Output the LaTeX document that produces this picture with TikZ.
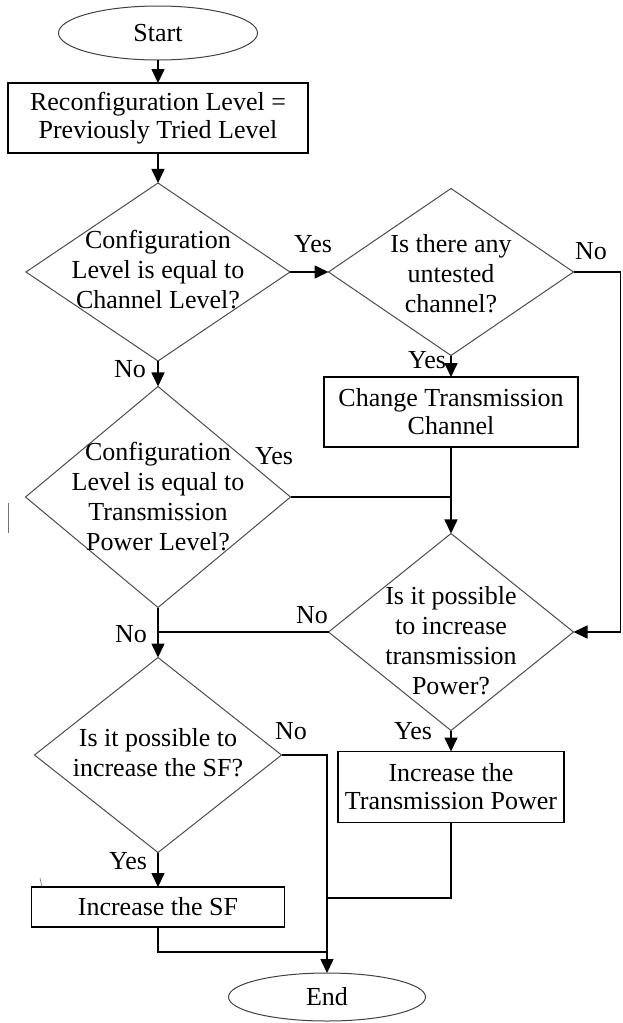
\documentclass[tikz,border=0pt]{standalone}
\usepackage{fontspec}
\setmainfont{Liberation Serif}
\usetikzlibrary{arrows.meta, shapes.geometric}
\tikzset{
  flowbox/.style={draw=black, line width=1.3pt, rectangle, inner sep=0pt,
                  outer sep=0pt, align=center},
  terminal/.style={draw=black!75, line width=1pt, ellipse, inner sep=0pt,
                   outer sep=0pt},
  decision/.style={draw=black!70, line width=1pt, diamond, inner sep=0pt,
                   outer sep=0pt},
  qtext/.style={align=center, font=\fontsize{26}{30}\selectfont},
  flow/.style={line width=1.6pt, -{Triangle[length=14pt, width=13pt]}},
  link/.style={line width=1.6pt},
  ans/.style={inner sep=0pt},
}
\begin{document}
\begin{tikzpicture}[x=1pt, y=-1pt, font=\fontsize{26}{28}\selectfont]
  \useasboundingbox (0,0) rectangle (622,1023);

  % left column
  \node[terminal, minimum width=199pt, minimum height=54pt] (start) at (158,33) {Start};
  \node[flowbox, minimum width=300pt, minimum height=70pt] (cfg) at (158,118)
    {Reconfiguration Level =\\Previously Tried Level};
  \node[decision, minimum width=264pt, minimum height=178pt,
        label={[qtext, yshift=2pt]center:Configuration\\Level is equal to\\Channel Level?}]
    (chlvl) at (158,272) {};
  \node[decision, minimum width=265pt, minimum height=221pt,
        label={[qtext]center:Configuration\\Level is equal to\\Transmission\\Power Level?}]
    (pwlvl) at (158,497) {};
  \node[decision, minimum width=247pt, minimum height=195pt,
        label={[qtext, yshift=2pt]center:Is it possible to\\increase the SF?}]
    (sfq) at (158,755) {};
  \node[flowbox, minimum width=253pt, minimum height=40pt] (incsf) at (158,907) {Increase the SF};

  % right column
  \node[decision, minimum width=245pt, minimum height=167pt,
        label={[qtext, yshift=-2pt]center:Is there any\\untested\\channel?}]
    (untst) at (451,272) {};
  \node[flowbox, minimum width=254pt, minimum height=70pt] (chgch) at (451,412)
    {Change Transmission\\Channel};
  \node[decision, minimum width=245pt, minimum height=197pt,
        label={[qtext, yshift=-9pt]center:Is it possible\\to increase\\transmission\\Power?}]
    (pwq) at (451,632) {};
  \node[flowbox, minimum width=226pt, minimum height=71pt] (incpw) at (451,787)
    {Increase the\\Transmission Power};

  \node[terminal, minimum width=197pt, minimum height=48pt] (end) at (327,997) {End};
  \coordinate (mpw) at (327,898);
  \coordinate (msf) at (327,952);

  % connectors
  \draw[flow] (start) -- (cfg);
  \draw[flow] (cfg) -- (chlvl);
  \draw[flow] (chlvl.east) -- (untst.west);
  \draw[flow] (chlvl) -- (pwlvl);
  \draw[flow] (untst) -- (chgch);
  \draw[flow] (chgch) -- (pwq);
  \draw[link] (pwlvl.east) -- (pwlvl.east -| pwq.north);
  \draw[flow] (untst.east) -- ++(47,0) |- (pwq.east);
  \draw[link] (pwq.west) -- (pwq.west -| pwlvl.south);
  \draw[flow] (pwlvl) -- (sfq);
  \draw[flow] (pwq) -- (incpw);
  \draw[flow] (sfq) -- (incsf);
  \draw[flow] (sfq.east) -| (end);
  \draw[link] (incpw) |- (mpw);
  \draw[link] (incsf) |- (msf);

  % answers
  \node[ans] (yes1) at (313,244) {Yes};
  \node[ans] (no1)  at (591,251) {No};
  \node[ans] (no2)  at (130,369) {No};
  \node[ans] (yes2) at (427,360) {Yes};
  \node[ans] (yes3) at (274,456) {Yes};
  \node[ans] (no3)  at (312,615) {No};
  \node[ans] (no4)  at (131,634) {No};
  \node[ans] (yes4) at (413,731) {Yes};
  \node[ans] (no5)  at (291,731) {No};
  \node[ans] (yes5) at (128,861) {Yes};

  % stray marks
  \draw[black!55, line width=0.8pt] (8,503) -- (8,533);
  \draw[black!55, line width=0.6pt] (40,878) -- (42,887);
\end{tikzpicture}
\end{document}
